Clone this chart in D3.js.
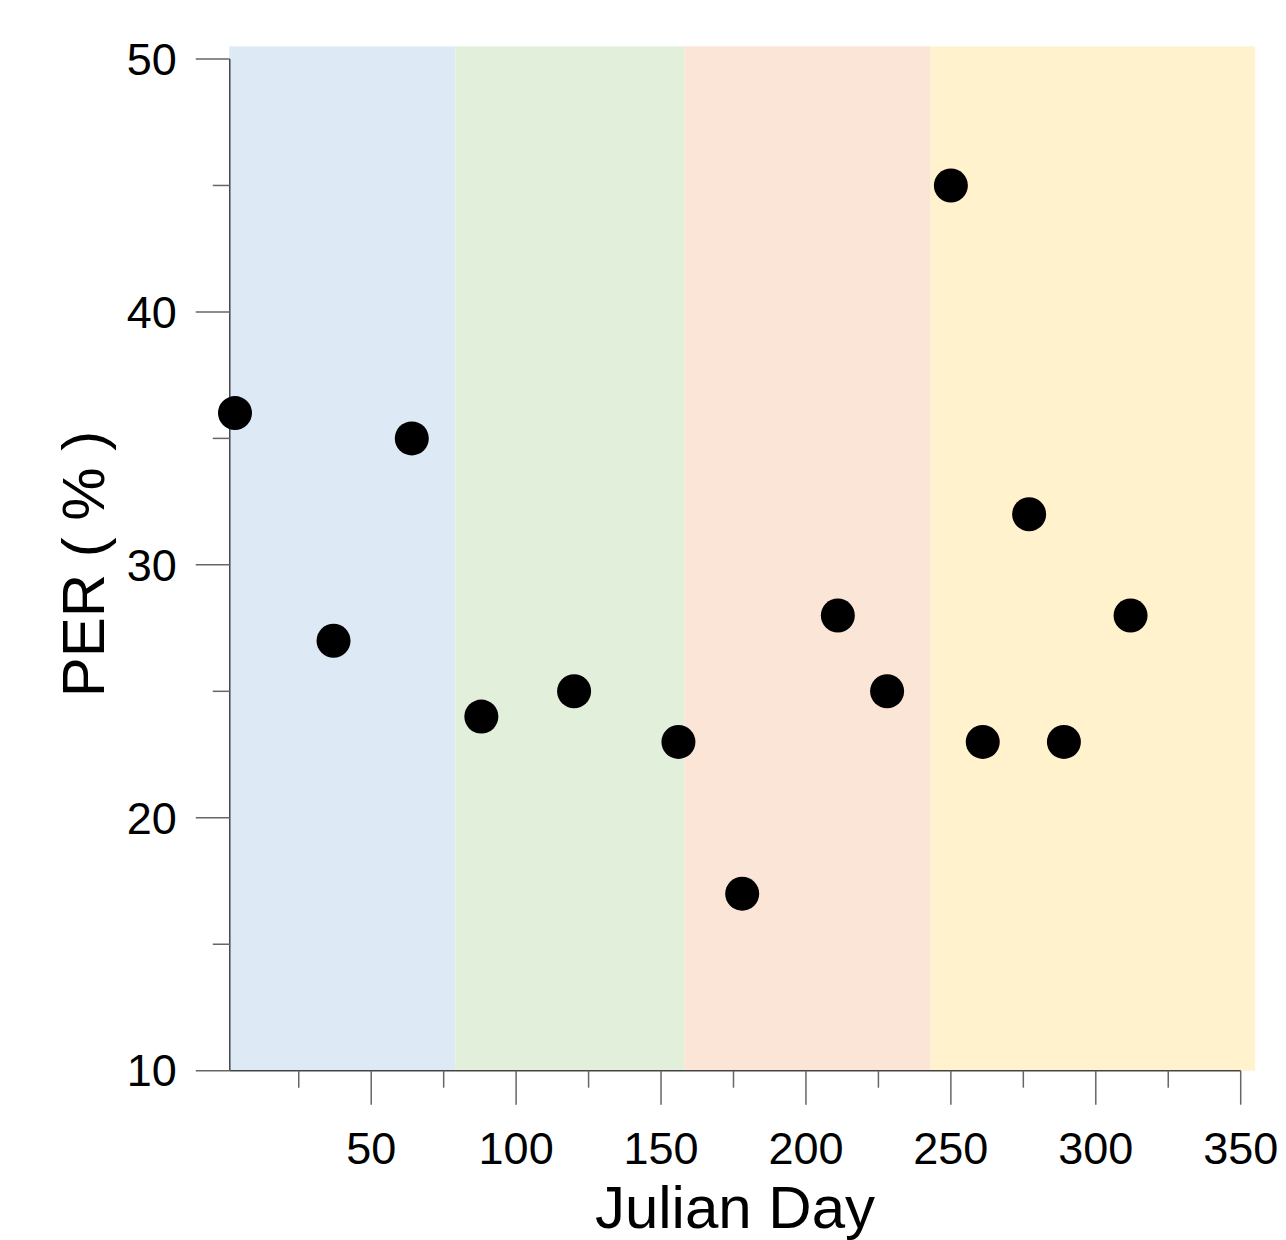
<!DOCTYPE html>
<html>
<head>
<meta charset="utf-8">
<script src="https://cdn.jsdelivr.net/npm/d3@7"></script>
<style>
  body { margin: 0; background: #fff; }
  svg { display: block; font-family: "Liberation Sans", Arial, sans-serif; }
</style>
</head>
<body>
<svg id="chart" width="1286" height="1240"></svg>
<script>
// data
var julianDay = [3, 37, 64, 88, 120, 156, 178, 211, 228, 250, 261, 277, 289, 312];
var per = [36, 27, 35, 24, 25, 23, 17, 28, 25, 45, 23, 32, 23, 28];

// seasonal shading bands (start / end day)
var bandStart = [1, 79, 158, 243];
var bandEnd = [79, 158, 243, 355];
var bandColor = ["#ddeaf6", "#e2efda", "#fbe5d7", "#fff2cc"];

var xMajor = [50, 100, 150, 200, 250, 300, 350];
var xMinor = [25, 75, 125, 175, 225, 275, 325];
var yMajor = [10, 20, 30, 40, 50];
var yMinor = [15, 25, 35, 45];

var svg = d3.select("#chart");

var x = d3.scaleLinear().domain([0, 350]).range([226.3, 1240.7]);
var y = d3.scaleLinear().domain([10, 50]).range([1070.7, 59]);

var axisColor = "#444";
var tickColor = "#666";
var majorLen = 34, minorLen = 17;

// bands
svg.append("g").selectAll("rect")
  .data(bandStart)
  .join("rect")
    .attr("x", (d, i) => x(d))
    .attr("width", (d, i) => x(bandEnd[i]) - x(d))
    .attr("y", y(50.5))
    .attr("height", y(10) - y(50.5))
    .attr("fill", (d, i) => bandColor[i]);

// x axis
var xAxis = svg.append("g").attr("transform", "translate(0," + y(10) + ")");
xAxis.append("line")
  .attr("x1", x(1.2)).attr("x2", x(350))
  .attr("stroke", axisColor).attr("stroke-width", 1.5);
xAxis.selectAll(".maj")
  .data(xMajor)
  .join("line")
    .attr("class", "maj")
    .attr("x1", d => x(d)).attr("x2", d => x(d))
    .attr("y1", 0).attr("y2", majorLen)
    .attr("stroke", tickColor).attr("stroke-width", 1.5);
xAxis.selectAll(".min")
  .data(xMinor)
  .join("line")
    .attr("class", "min")
    .attr("x1", d => x(d)).attr("x2", d => x(d))
    .attr("y1", 0).attr("y2", minorLen)
    .attr("stroke", tickColor).attr("stroke-width", 1.5);
xAxis.selectAll("text")
  .data(xMajor)
  .join("text")
    .attr("x", d => x(d))
    .attr("y", 93)
    .attr("text-anchor", "middle")
    .attr("font-size", 45)
    .attr("fill", "#000")
    .text(d => d);

// y axis
var yAxis = svg.append("g").attr("transform", "translate(" + x(1.2) + ",0)");
yAxis.append("line")
  .attr("y1", y(10)).attr("y2", y(50))
  .attr("stroke", axisColor).attr("stroke-width", 1.5);
yAxis.selectAll(".maj")
  .data(yMajor)
  .join("line")
    .attr("class", "maj")
    .attr("y1", d => y(d)).attr("y2", d => y(d))
    .attr("x1", 0).attr("x2", -majorLen)
    .attr("stroke", tickColor).attr("stroke-width", 1.5);
yAxis.selectAll(".min")
  .data(yMinor)
  .join("line")
    .attr("class", "min")
    .attr("y1", d => y(d)).attr("y2", d => y(d))
    .attr("x1", 0).attr("x2", -minorLen)
    .attr("stroke", tickColor).attr("stroke-width", 1.5);
yAxis.selectAll("text")
  .data(yMajor)
  .join("text")
    .attr("x", -53)
    .attr("y", d => y(d))
    .attr("dy", "0.35em")
    .attr("text-anchor", "end")
    .attr("font-size", 45)
    .attr("fill", "#000")
    .text(d => d);

// points
svg.append("g").selectAll("circle")
  .data(julianDay)
  .join("circle")
    .attr("cx", d => x(d))
    .attr("cy", (d, i) => y(per[i]))
    .attr("r", 17)
    .attr("fill", "#000");

// axis titles
svg.append("text")
  .attr("x", 735)
  .attr("y", 1228)
  .attr("text-anchor", "middle")
  .attr("font-size", 60)
  .text("Julian Day");

svg.append("text")
  .attr("transform", "translate(104,564) rotate(-90)")
  .attr("text-anchor", "middle")
  .attr("font-size", 60)
  .text("PER ( % )");
</script>
</body>
</html>
